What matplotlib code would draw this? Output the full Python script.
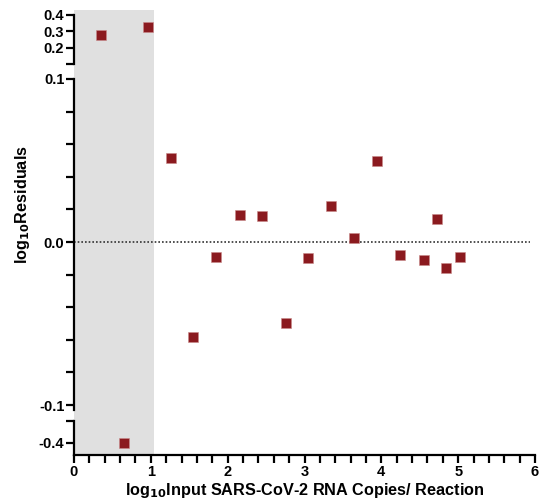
import numpy as np
import matplotlib
matplotlib.use("Agg")
from matplotlib import pyplot as plt
from matplotlib.patches import Rectangle
from matplotlib.ticker import MultipleLocator
import matplotlib.transforms as mtransforms

plt.rcParams['font.family'] = ['Liberation Sans', 'DejaVu Sans']
plt.rcParams['font.weight'] = 'bold'

# log10 input copies and log10 residuals
x_vals = [0.35, 0.65, 0.96, 1.26, 1.55, 1.85, 2.16, 2.45, 2.76, 3.05,
          3.35, 3.64, 3.94, 4.24, 4.56, 4.72, 4.84, 5.02]
residuals = [0.28, -0.40, 0.33, 0.0516, -0.058, -0.0090, 0.0165, 0.0161, -0.0496, -0.0096,
             0.0222, 0.0026, 0.0496, -0.0080, -0.0107, 0.0141, -0.0157, -0.0094]

excluded_upto = 1.04  # shaded low-input range

x = np.array(x_vals)
y = np.array(residuals)

marker_color = '#8B1A1F'
lw = 1.6

fig = plt.figure(figsize=(5.42, 5.04), dpi=100)
left, width = 74 / 542, 461 / 542

def fy(py):
    return 1 - py / 504

ax_top = fig.add_axes([left, fy(64.3), width, fy(15) - fy(64.3)])
ax_mid = fig.add_axes([left, fy(410), width, fy(79) - fy(410)])
ax_bot = fig.add_axes([left, fy(455), width, fy(421) - fy(455)])

ax_top.set_ylim(0.1, 0.4)
ax_mid.set_ylim(-0.103, 0.1)
ax_bot.set_ylim(-0.455, -0.3)

ax_top.set_yticks([0.1, 0.2, 0.3, 0.4])
ax_top.set_yticklabels(['', '0.2', '0.3', '0.4'])

ax_mid.set_yticks([-0.1, 0.0, 0.1])
ax_mid.set_yticklabels(['-0.1', '0.0', '0.1'])
ax_mid.set_yticks([-0.08, -0.06, -0.04, -0.02, 0.02, 0.04, 0.06, 0.08], minor=True)

ax_bot.set_yticks([-0.4, -0.3])
ax_bot.set_yticklabels(['-0.4', ''])

for ax in (ax_top, ax_mid, ax_bot):
    ax.set_facecolor('none')
    ax.set_xlim(0, 6)
    for s in ('top', 'right'):
        ax.spines[s].set_visible(False)
    ax.spines['left'].set_linewidth(lw)
    ax.tick_params(axis='y', which='both', width=lw, length=5.5, labelsize=10.5, pad=1.5)
    lo, hi = ax.get_ylim()
    sel = (y >= lo) & (y <= hi)
    ax.plot(x[sel], y[sel], 's', color=marker_color, markersize=7.2,
            markeredgecolor='#c98a8a', markeredgewidth=0.4, clip_on=False, zorder=3)

for ax in (ax_top, ax_mid):
    ax.spines['bottom'].set_visible(False)
    ax.tick_params(axis='x', which='both', bottom=False, labelbottom=False)

ax_mid.axhline(0, color='#333333', linestyle=(0, (1, 1.2)), linewidth=1.2, xmax=0.99, zorder=2)

ax_bot.spines['bottom'].set_linewidth(lw)
ax_bot.xaxis.set_major_locator(MultipleLocator(1))
ax_bot.xaxis.set_minor_locator(MultipleLocator(0.2))
ax_bot.tick_params(axis='x', which='both', width=lw, length=5.5, labelsize=10.5, pad=2)
ax_bot.set_xlabel('log$_{10}$Input SARS-CoV-2 RNA Copies/ Reaction',
                  fontsize=11.7, fontweight='bold', labelpad=1)

# grey shading behind all three segments
trans = mtransforms.blended_transform_factory(ax_bot.transData, fig.transFigure)
shade = Rectangle((0, fy(455)), excluded_upto, fy(10) - fy(455), transform=trans,
                  facecolor='#E0E0E0', edgecolor='none', zorder=-1)
fig.add_artist(shade)

fig.text(23 / 542, fy(205), 'log$_{10}$Residuals', rotation=90, ha='center', va='center',
         fontsize=11.7, fontweight='bold')

fig.savefig('out.png', dpi=100)
